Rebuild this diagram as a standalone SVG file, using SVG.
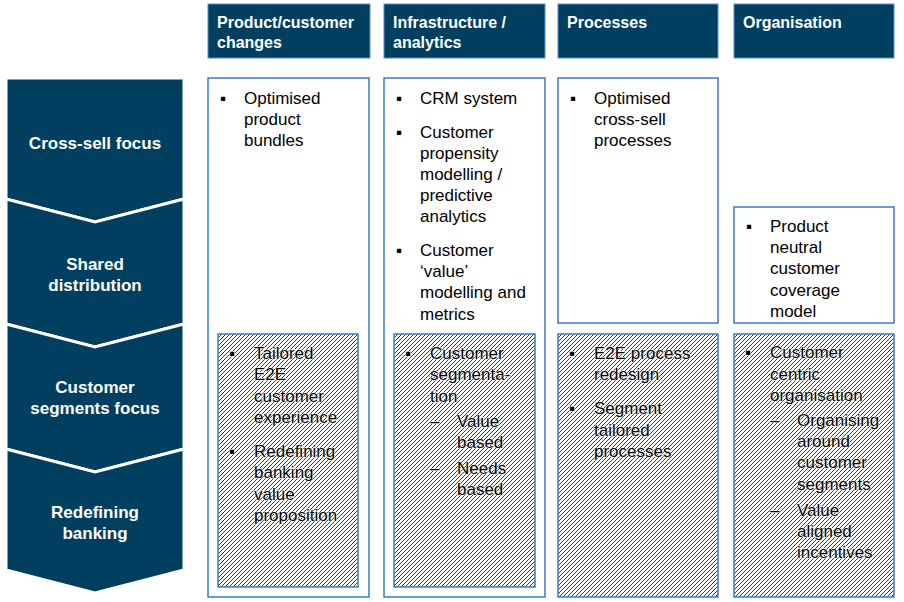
<svg xmlns="http://www.w3.org/2000/svg" width="904" height="602" viewBox="0 0 904 602">
<defs>
<pattern id="hatch" patternUnits="userSpaceOnUse" width="4" height="4">
<rect width="4" height="4" fill="#ffffff"/>
<path d="M-1,1 l2,-2 M0,4 l4,-4 M3,5 l2,-2" stroke="#1F3F6E" stroke-width="1"/>
</pattern>
<style>
.chev{fill:#003F5F;stroke:#ffffff;stroke-width:3;stroke-linejoin:miter}
.clab{font-family:"Liberation Sans",Arial,sans-serif;font-weight:bold;font-size:17px;fill:#ffffff;text-anchor:middle}
.hdr{fill:#003F5F;stroke:#5B8FC7;stroke-width:1}
.htxt{font-family:"Liberation Sans",Arial,sans-serif;font-weight:bold;font-size:16px;fill:#ffffff}
.box{fill:#ffffff;stroke:#3A7CC0;stroke-width:1.5}
.hbox{fill:url(#hatch);stroke:#3A7CC0;stroke-width:1.5}
.t{font-family:"Liberation Sans",Arial,sans-serif;font-size:17px;fill:#000000}
.ht{font-family:"Liberation Sans",Arial,sans-serif;font-size:17px;fill:#000000;stroke:#ffffff;stroke-width:1.2;paint-order:stroke}
</style>
</defs>
<rect width="904" height="602" fill="#ffffff"/>

<g id="chevrons">
<g id="chev-crosssell">
<polygon class="chev" points="6,78 184,78 184,199 95,222 6,199"/>
<text class="clab" x="95" y="149">Cross-sell focus</text>
</g>
<g id="chev-shared">
<polygon class="chev" points="6,199 95,222 184,199 184,324 95,347 6,324"/>
<text class="clab" x="95" y="270">Shared</text>
<text class="clab" x="95" y="291">distribution</text>
</g>
<g id="chev-segments">
<polygon class="chev" points="6,324 95,347 184,324 184,449 95,472 6,449"/>
<text class="clab" x="95" y="393">Customer</text>
<text class="clab" x="95" y="414">segments focus</text>
</g>
<g id="chev-redefining">
<polygon class="chev" points="6,449 95,472 184,449 184,570 95,593 6,570"/>
<text class="clab" x="95" y="518">Redefining</text>
<text class="clab" x="95" y="539">banking</text>
</g>
</g>

<g id="headers">
<g id="hdr-product">
<rect class="hdr" x="208" y="4" width="162" height="54"/>
<text class="htxt" x="217" y="28">Product/customer</text>
<text class="htxt" x="217" y="48">changes</text>
</g>
<g id="hdr-infra">
<rect class="hdr" x="384" y="4" width="161" height="54"/>
<text class="htxt" x="393" y="28">Infrastructure /</text>
<text class="htxt" x="393" y="48">analytics</text>
</g>
<g id="hdr-processes">
<rect class="hdr" x="558" y="4" width="160" height="54"/>
<text class="htxt" x="567" y="28">Processes</text>
</g>
<g id="hdr-organisation">
<rect class="hdr" x="734" y="4" width="160" height="54"/>
<text class="htxt" x="743" y="28">Organisation</text>
</g>
</g>

<g id="col-product">
<rect class="box" x="208" y="78" width="161" height="519"/>
<text class="t" x="220" y="104">▪</text>
<text class="t" x="244" y="104">Optimised</text>
<text class="t" x="244" y="125">product</text>
<text class="t" x="244" y="146">bundles</text>
</g>

<g id="col-infra">
<rect class="box" x="384" y="78" width="161" height="519"/>
<text class="t" x="396" y="104">▪</text>
<text class="t" x="420" y="104">CRM system</text>
<text class="t" x="396" y="138">▪</text>
<text class="t" x="420" y="138">Customer</text>
<text class="t" x="420" y="159">propensity</text>
<text class="t" x="420" y="180">modelling /</text>
<text class="t" x="420" y="201">predictive</text>
<text class="t" x="420" y="222">analytics</text>
<text class="t" x="396" y="256">▪</text>
<text class="t" x="420" y="256">Customer</text>
<text class="t" x="420" y="277">‘value’</text>
<text class="t" x="420" y="298">modelling and</text>
<text class="t" x="420" y="320">metrics</text>
</g>

<g id="col-processes">
<rect class="box" x="558" y="78" width="160" height="245"/>
<text class="t" x="570" y="104">▪</text>
<text class="t" x="594" y="104">Optimised</text>
<text class="t" x="594" y="125">cross-sell</text>
<text class="t" x="594" y="146">processes</text>
</g>

<g id="col-organisation">
<rect class="box" x="734" y="207" width="160" height="116"/>
<text class="t" x="746" y="232">▪</text>
<text class="t" x="770" y="232">Product</text>
<text class="t" x="770" y="253">neutral</text>
<text class="t" x="770" y="274">customer</text>
<text class="t" x="770" y="296">coverage</text>
<text class="t" x="770" y="317">model</text>
</g>

<g id="seg-product">
<rect class="hbox" x="218" y="334" width="140" height="253"/>
<text class="ht" x="229" y="359">▪</text>
<text class="ht" x="254" y="359">Tailored</text>
<text class="ht" x="254" y="380">E2E</text>
<text class="ht" x="254" y="402">customer</text>
<text class="ht" x="254" y="423">experience</text>
<text class="ht" x="229" y="457">▪</text>
<text class="ht" x="254" y="457">Redefining</text>
<text class="ht" x="254" y="478">banking</text>
<text class="ht" x="254" y="500">value</text>
<text class="ht" x="254" y="521">proposition</text>
</g>

<g id="seg-infra">
<rect class="hbox" x="394" y="334" width="141" height="253"/>
<text class="ht" x="405" y="359">▪</text>
<text class="ht" x="430" y="359">Customer</text>
<text class="ht" x="430" y="380">segmenta-</text>
<text class="ht" x="430" y="402">tion</text>
<text class="ht" x="430" y="427">–</text>
<text class="ht" x="457" y="427">Value</text>
<text class="ht" x="457" y="448">based</text>
<text class="ht" x="430" y="474">–</text>
<text class="ht" x="457" y="474">Needs</text>
<text class="ht" x="457" y="495">based</text>
</g>

<g id="seg-processes">
<rect class="hbox" x="558" y="334" width="160" height="263"/>
<text class="ht" x="569" y="359">▪</text>
<text class="ht" x="594" y="359">E2E process</text>
<text class="ht" x="594" y="380">redesign</text>
<text class="ht" x="569" y="414">▪</text>
<text class="ht" x="594" y="414">Segment</text>
<text class="ht" x="594" y="436">tailored</text>
<text class="ht" x="594" y="457">processes</text>
</g>

<g id="seg-organisation">
<rect class="hbox" x="734" y="334" width="160" height="263"/>
<text class="ht" x="745" y="358">▪</text>
<text class="ht" x="770" y="358">Customer</text>
<text class="ht" x="770" y="380">centric</text>
<text class="ht" x="770" y="401">organisation</text>
<text class="ht" x="770" y="426">–</text>
<text class="ht" x="797" y="426">Organising</text>
<text class="ht" x="797" y="447">around</text>
<text class="ht" x="797" y="468">customer</text>
<text class="ht" x="797" y="490">segments</text>
<text class="ht" x="770" y="516">–</text>
<text class="ht" x="797" y="516">Value</text>
<text class="ht" x="797" y="537">aligned</text>
<text class="ht" x="797" y="558">incentives</text>
</g>

<g id="connectors"></g>
</svg>
